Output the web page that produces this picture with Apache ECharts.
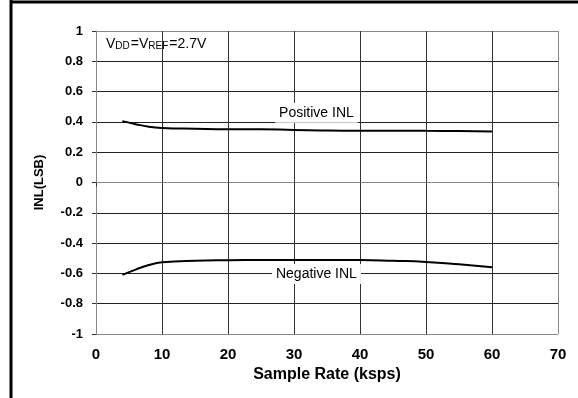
<!DOCTYPE html>
<html>
<head>
<meta charset="utf-8">
<script src="https://cdn.jsdelivr.net/npm/echarts@6/dist/echarts.min.js"></script>
<style>
  html, body {margin: 0; padding: 0; background: #fff;}
  #main {width: 578px; height: 398px;}
</style>
</head>
<body>
<div id="main"></div>
<script>
const sampleRate = [4, 6, 8, 10, 15, 20, 25, 30, 35, 40, 45, 50, 55, 60];
const positiveInl = [0.405, 0.385, 0.368, 0.36, 0.355, 0.352, 0.352, 0.346, 0.343, 0.342, 0.342, 0.341, 0.34, 0.336];
const negativeInl = [-0.61, -0.575, -0.545, -0.527, -0.516, -0.513, -0.512, -0.511, -0.511, -0.512, -0.517, -0.524, -0.54, -0.56];
const yGridColors = ['#888', '#222', '#222', '#222', '#222', '#222', '#222', '#222', '#222', '#222', '#888'];
const xGridColors = ['#888', '#333', '#333', '#333', '#333', '#333', '#333', '#888'];

const font = 'Liberation Sans, Arial, sans-serif';
const chart = echarts.init(document.getElementById('main'));

const boxLabel = {
  show: true,
  color: '#000',
  fontFamily: font,
  fontSize: 14,
  backgroundColor: '#fff',
  padding: [3, 4, 3, 4]
};

chart.setOption({
  animation: false,
  grid: {left: 96, right: 20, top: 31, bottom: 64},
  xAxis: {
    type: 'value',
    min: 0, max: 70, interval: 10,
    name: 'Sample Rate (ksps)',
    nameLocation: 'middle',
    nameGap: 32,
    nameTextStyle: {color: '#000', fontWeight: 'bold', fontSize: 16, fontFamily: font},
    axisLine: {show: true, lineStyle: {color: '#888', width: 1}},
    axisTick: {show: true, inside: false, length: 4, lineStyle: {color: '#333'}},
    axisLabel: {color: '#000', fontWeight: 'bold', fontSize: 15, fontFamily: font, margin: 13},
    splitLine: {show: true, lineStyle: {color: xGridColors, width: 1}}
  },
  yAxis: {
    type: 'value',
    min: -1, max: 1, interval: 0.2,
    name: 'INL(LSB)',
    nameLocation: 'middle',
    nameRotate: 90,
    nameGap: 50,
    nameTextStyle: {color: '#000', fontWeight: 'bold', fontSize: 13, fontFamily: font},
    axisLine: {show: true, lineStyle: {color: '#888', width: 1}},
    axisTick: {show: true, inside: false, length: 4, lineStyle: {color: '#333'}},
    axisLabel: {
      color: '#000', fontWeight: 'bold', fontSize: 13, fontFamily: font, margin: 13,
      formatter: v => String(Math.round(v * 10) / 10)
    },
    splitLine: {show: true, lineStyle: {color: yGridColors, width: 1}}
  },
  graphic: [
    {type: 'line', shape: {x1: 11, y1: 0, x2: 11, y2: 398}, style: {stroke: '#000', lineWidth: 3}},
    {type: 'line', shape: {x1: 10, y1: 2, x2: 578, y2: 2}, style: {stroke: '#000', lineWidth: 3}},
    {
      type: 'text', left: 106, top: 37, z: 10,
      style: {
        text: '{v|V}{s|DD}{v|=V}{s|REF}{v|=2.7V}',
        rich: {
          v: {fontSize: 14, fontFamily: font, fill: '#000', lineHeight: 18, verticalAlign: 'bottom'},
          s: {fontSize: 10, fontFamily: font, fill: '#000', lineHeight: 8, verticalAlign: 'bottom', padding: [0, 1, 0, 0]}
        }
      }
    }
  ],
  series: [
    {
      type: 'line',
      data: sampleRate.map((x, i) => [x, positiveInl[i]]),
      smooth: true,
      symbol: 'none',
      lineStyle: {color: '#000', width: 2},
      markPoint: {
        symbol: 'circle', symbolSize: 0,
        label: Object.assign({formatter: 'Positive INL'}, boxLabel),
        data: [{coord: [33.4, 0.46]}]
      }
    },
    {
      type: 'line',
      data: sampleRate.map((x, i) => [x, negativeInl[i]]),
      smooth: true,
      symbol: 'none',
      lineStyle: {color: '#000', width: 2},
      markPoint: {
        symbol: 'circle', symbolSize: 0,
        label: Object.assign({formatter: 'Negative INL'}, boxLabel),
        data: [{coord: [33.4, -0.604]}]
      }
    }
  ]
});
</script>
</body>
</html>
